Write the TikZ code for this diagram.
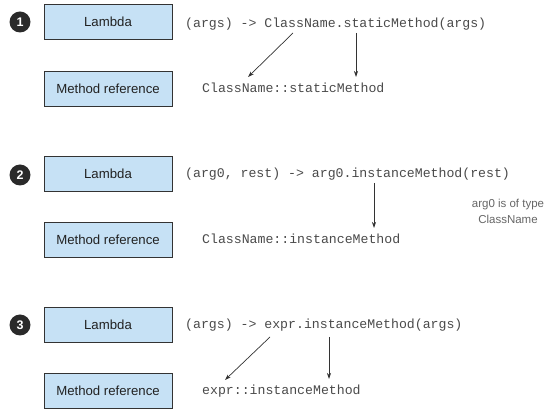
\documentclass[tikz,border=0pt]{standalone}
\usepackage{fontspec}
\setmainfont{Liberation Sans}
\newfontfamily\codefont{Liberation Mono}
\usetikzlibrary{arrows.meta}
\definecolor{boxfill}{HTML}{C6E1F5}
\definecolor{boxborder}{HTML}{333333}
\definecolor{textdark}{HTML}{222222}
\definecolor{codegray}{HTML}{4A4A4A}
\definecolor{numfill}{HTML}{2A2A2A}
\definecolor{arrowgray}{HTML}{333333}
\definecolor{notegray}{HTML}{666666}
\begin{document}
\begin{tikzpicture}[x=1pt,y=-1pt,
  box/.style={draw=boxborder, fill=boxfill, line width=0.8pt, minimum width=128pt, minimum height=35pt, inner sep=0pt, font=\fontsize{13.2}{15}\selectfont, text=textdark},
  num/.style={circle, fill=numfill, minimum size=21pt, inner sep=0pt, text=white, font=\bfseries\fontsize{12.5}{14}\selectfont},
  code/.style={anchor=base west, inner sep=0pt, font=\codefont\fontsize{13.2}{15}\selectfont, text=codegray},
  arr/.style={-{Stealth[length=6pt,width=4pt]}, line width=0.7pt, draw=arrowgray},
  note/.style={align=center, inner sep=0pt, text=notegray, font=\fontsize{11.5}{16}\selectfont}]
\useasboundingbox (0,0) rectangle (555,411);
% panel 1
\node[num] (n1) at (20,22) {1};
\node[box] (l1) at (108,21.5) {Lambda};
\node[box] (m1) at (108,88.5) {Method reference};
\node[code] (c1) at (185,27.5) {(args) -> ClassName.staticMethod(args)};
\node[code] (r1) at (202,93) {ClassName::staticMethod};
\coordinate (a1s) at (293,33);
\coordinate (a1e) at (248,77);
\coordinate (b1s) at (356,33);
\coordinate (b1e) at (356,77);
\draw[arr] (a1s) -- (a1e);
\draw[arr] (b1s) -- (b1e);
% panel 2
\node[num] (n2) at (20,175) {2};
\node[box] (l2) at (108,173.5) {Lambda};
\node[box] (m2) at (108,239.5) {Method reference};
\node[code] (c2) at (185,178) {(arg0, rest) -> arg0.instanceMethod(rest)};
\node[code] (r2) at (202,244) {ClassName::instanceMethod};
\coordinate (a2s) at (374,183);
\coordinate (a2e) at (374,228);
\draw[arr] (a2s) -- (a2e);
\node[note] (t2) at (508,211) {arg0 is of type\\ClassName};
% panel 3
\node[num] (n3) at (20,325) {3};
\node[box] (l3) at (108,324.5) {Lambda};
\node[box] (m3) at (108,390.5) {Method reference};
\node[code] (c3) at (185,329) {(args) -> expr.instanceMethod(args)};
\node[code] (r3) at (202,395) {expr::instanceMethod};
\coordinate (a3s) at (270,337);
\coordinate (a3e) at (225,380);
\coordinate (b3s) at (329,337);
\coordinate (b3e) at (329,379);
\draw[arr] (a3s) -- (a3e);
\draw[arr] (b3s) -- (b3e);
\end{tikzpicture}
\end{document}
